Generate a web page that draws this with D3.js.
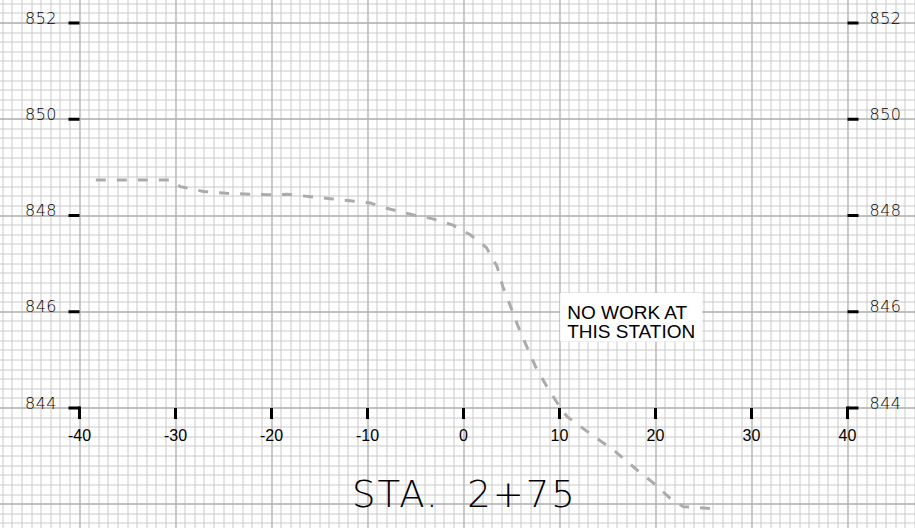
<!DOCTYPE html>
<html>
<head>
<meta charset="utf-8">
<script src="https://cdn.jsdelivr.net/npm/d3@7"></script>
<style>
  html, body { margin: 0; padding: 0; background: #fff; }
  svg { display: block; }
</style>
</head>
<body>
<svg id="chart" width="915" height="528"></svg>
<script>
// ---- data ----
const offsets = [-38.3, -30.5, -29.5, -27.1, -24.7, -20.4, -18.3, -13.9, -9.7, -8.0, -5.2, -3.2, -1.1, 0.7, 2.4, 3.5, 4.1, 4.9, 5.7, 6.6, 7.5, 8.7, 10.1, 10.8, 12.9, 15.6, 18.1, 19.8, 21.5, 22.9, 25.9];
const elevations = [848.74, 848.74, 848.6, 848.5, 848.46, 848.43, 848.44, 848.35, 848.26, 848.15, 848.01, 847.93, 847.8, 847.6, 847.33, 846.94, 846.52, 846.11, 845.69, 845.27, 844.86, 844.44, 844.0, 843.82, 843.51, 843.13, 842.71, 842.44, 842.13, 841.95, 841.91];
const xTicks = [-40, -30, -20, -10, 0, 10, 20, 30, 40];
const yTicks = [844, 846, 848, 850, 852];
const titleText = "STA.  2+75";
const noteLines = ["NO WORK AT", "THIS STATION"];
const noteOffset = 10.8;
const noteElevation = 845.85;

// ---- layout ----
const W = 915, H = 528;
const svg = d3.select("#chart");
const x = d3.scaleLinear().domain([-40, 40]).range([79.5, 847.5]);
const y = d3.scaleLinear().domain([844, 852]).range([408, 23]);

// grid
const gx0 = Math.floor(x.invert(0)), gx1 = Math.ceil(x.invert(W));
const gy0 = Math.floor(y.invert(H)), gy1 = Math.ceil(y.invert(0));
const fineX = d3.range(gx0, gx1 + 1).filter(v => v % 10 !== 0);
const fineY = d3.range(Math.round(gy0 * 5), Math.round(gy1 * 5) + 1).map(v => v / 5).filter(v => Math.abs(v / 2 - Math.round(v / 2)) > 1e-6);
const majorX = d3.range(gx0, gx1 + 1).filter(v => v % 10 === 0);
const majorY = d3.range(gy0, gy1 + 1).filter(v => v % 2 === 0);

const grid = svg.append("g");
grid.selectAll(".fx").data(fineX).join("line")
  .attr("x1", d => Math.round(x(d))).attr("x2", d => Math.round(x(d)))
  .attr("y1", 0).attr("y2", H).attr("stroke", "#cacaca").attr("stroke-width", 1);
grid.selectAll(".fy").data(fineY).join("line")
  .attr("y1", d => Math.round(y(d))).attr("y2", d => Math.round(y(d)))
  .attr("x1", 0).attr("x2", W).attr("stroke", "#cacaca").attr("stroke-width", 1);
grid.selectAll(".mx").data(majorX).join("line")
  .attr("x1", d => Math.round(x(d))).attr("x2", d => Math.round(x(d)))
  .attr("y1", 0).attr("y2", H).attr("stroke", "#adadad").attr("stroke-width", 1.3);
grid.selectAll(".my").data(majorY).join("line")
  .attr("y1", d => Math.round(y(d))).attr("y2", d => Math.round(y(d)))
  .attr("x1", 0).attr("x2", W).attr("stroke", "#adadad").attr("stroke-width", 1.3);

// ticks
const tk = svg.append("g").attr("stroke", "#000").attr("stroke-width", 3);
tk.selectAll(".yl").data(yTicks).join("line")
  .attr("x1", x(-40) - 11).attr("x2", x(-40)).attr("y1", d => y(d)).attr("y2", d => y(d));
tk.selectAll(".yr").data(yTicks).join("line")
  .attr("x1", x(40)).attr("x2", x(40) + 11).attr("y1", d => y(d)).attr("y2", d => y(d));
tk.selectAll(".xt").data(xTicks).join("line")
  .attr("x1", d => x(d)).attr("x2", d => x(d))
  .attr("y1", d => (d === -40 || d === 40) ? y(844) - 1.5 : y(844)).attr("y2", y(844) + 11);

// tick labels
const thinFont = "'DejaVu Sans ExtraLight', 'DejaVu Sans', sans-serif";
svg.append("g").selectAll("text").data(yTicks).join("text")
  .attr("x", x(-40) - 22.5).attr("y", d => y(d) + 0.5)
  .attr("text-anchor", "end").attr("font-family", thinFont).attr("font-weight", 200)
  .attr("font-size", 16).attr("letter-spacing", 0.5).attr("fill", "#000").text(d => d);
svg.append("g").selectAll("text").data(yTicks).join("text")
  .attr("x", x(40) + 22).attr("y", d => y(d) + 0.5)
  .attr("text-anchor", "start").attr("font-family", thinFont).attr("font-weight", 200)
  .attr("font-size", 16).attr("letter-spacing", 0.5).attr("fill", "#000").text(d => d);
svg.append("g").selectAll("text").data(xTicks).join("text")
  .attr("x", d => x(d)).attr("y", y(844) + 33)
  .attr("text-anchor", "middle").attr("font-family", "'Liberation Sans', Arial, sans-serif")
  .attr("font-size", 16).attr("fill", "#000").text(d => d);

// ground line
const line = d3.line().x(d => x(d[0])).y(d => y(d[1]));
svg.append("path")
  .datum(offsets.map((o, i) => [o, elevations[i]]))
  .attr("d", line).attr("fill", "none")
  .attr("stroke", "#ababab").attr("stroke-width", 3)
  .attr("stroke-dasharray", "10,11");

// note
const note = svg.append("g");
const noteRect = note.append("rect").attr("fill", "#fff");
const noteText = note.append("text")
  .attr("font-family", "'Liberation Sans', Arial, sans-serif").attr("font-size", 19).attr("fill", "#000");
noteText.selectAll("tspan").data(noteLines).join("tspan")
  .attr("x", x(noteOffset)).attr("y", (d, i) => y(noteElevation) + i * 19.5).text(d => d);
const bb = noteText.node().getBBox();
noteRect.attr("x", bb.x - 7).attr("y", bb.y - 9).attr("width", bb.width + 14).attr("height", bb.height + 8);

// title
svg.append("text")
  .attr("x", x(0) + 1).attr("y", 506.5)
  .attr("text-anchor", "middle").attr("font-family", thinFont).attr("font-weight", 200)
  .attr("font-size", 37).attr("letter-spacing", 2).attr("fill", "#000")
  .style("white-space", "pre").text(titleText);
</script>
</body>
</html>
